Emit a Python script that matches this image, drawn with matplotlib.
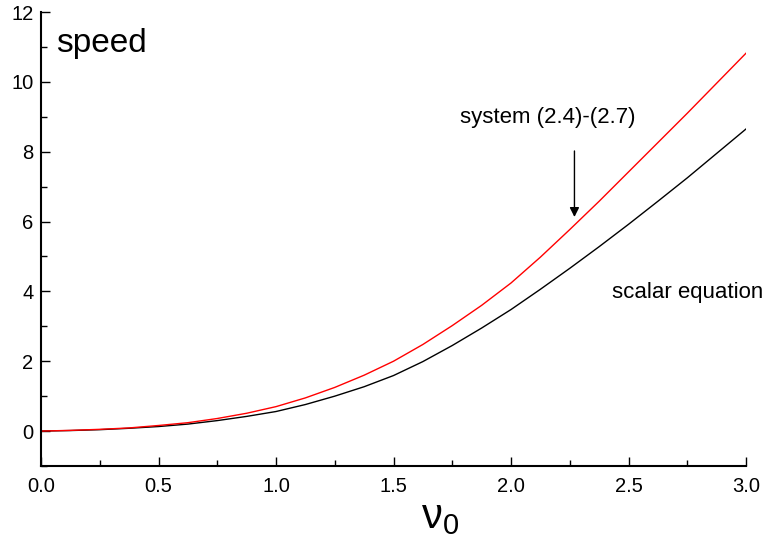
import matplotlib
matplotlib.use("Agg")
import matplotlib.pyplot as plt
from matplotlib.ticker import MultipleLocator

plt.rcParams['font.family'] = ['Liberation Sans', 'DejaVu Sans']
plt.rcParams['mathtext.fontset'] = 'custom'
plt.rcParams['mathtext.rm'] = 'Liberation Sans'

nu0 = [0.0, 0.125, 0.25, 0.375, 0.5, 0.625, 0.75, 0.875, 1.0, 1.125, 1.25, 1.375,
       1.5, 1.625, 1.75, 1.875, 2.0, 2.125, 2.25, 2.375, 2.5, 2.625, 2.75, 2.875, 3.0]
speed_system = [0.00, 0.02, 0.05, 0.09, 0.16, 0.24, 0.36, 0.51, 0.70, 0.95, 1.25, 1.60,
                2.00, 2.48, 3.02, 3.60, 4.24, 4.98, 5.77, 6.58, 7.42, 8.26, 9.10, 9.96, 10.82]
speed_scalar = [0.00, 0.015, 0.04, 0.08, 0.13, 0.20, 0.30, 0.42, 0.56, 0.76, 1.00, 1.27,
                1.59, 1.99, 2.45, 2.95, 3.48, 4.06, 4.66, 5.28, 5.92, 6.58, 7.25, 7.95, 8.65]

fig = plt.figure(figsize=(7.64, 5.39), dpi=100)
ax = fig.add_axes([41/764, 73/539, 705/764, 454/539])

ax.plot(nu0, speed_scalar, color='black', lw=1.0)
ax.plot(nu0, speed_system, color='red', lw=1.0)

ax.set_xlim(0, 3)
ax.set_ylim(-1, 12)
ax.spines['top'].set_visible(False)
ax.spines['right'].set_visible(False)
ax.spines['left'].set_linewidth(1.5)
ax.spines['bottom'].set_linewidth(1.5)

ax.xaxis.set_minor_locator(MultipleLocator(0.25))
ax.yaxis.set_minor_locator(MultipleLocator(1))
ax.set_xticks([0.0, 0.5, 1.0, 1.5, 2.0, 2.5, 3.0])
ax.set_xticklabels(['0.0', '0.5', '1.0', '1.5', '2.0', '2.5', '3.0'])
ax.set_yticks([0, 2, 4, 6, 8, 10, 12])
ax.set_yticklabels(['0', '2', '4', '6', '8', '10', '12'])

ax.tick_params(which='major', direction='in', length=6.5, width=1.0, labelsize=14.5)
ax.tick_params(which='minor', direction='in', length=4, width=1.0)
ax.tick_params(axis='x', which='major', pad=8)
ax.tick_params(axis='y', which='major', pad=5.5)

ax.set_xlabel(r'$\mathregular{ν_0}$', fontsize=30)
ax.xaxis.set_label_coords(1.70 / 3.0, -0.112, transform=ax.transAxes)
ax.xaxis.label.set_va('center')

ax.text(0.022, 0.93, 'speed', transform=ax.transAxes, fontsize=24, ha='left', va='center')
ax.text(2.157, 8.97, 'system (2.4)-(2.7)', fontsize=16, ha='center', va='center')
ax.text(2.753, 3.97, 'scalar equation', fontsize=16, ha='center', va='center')
ax.annotate('', xy=(2.27, 6.05), xytext=(2.27, 8.1),
            arrowprops=dict(arrowstyle='-|>', color='black', lw=1.0, mutation_scale=14))

fig.savefig('out.png', dpi=100)
